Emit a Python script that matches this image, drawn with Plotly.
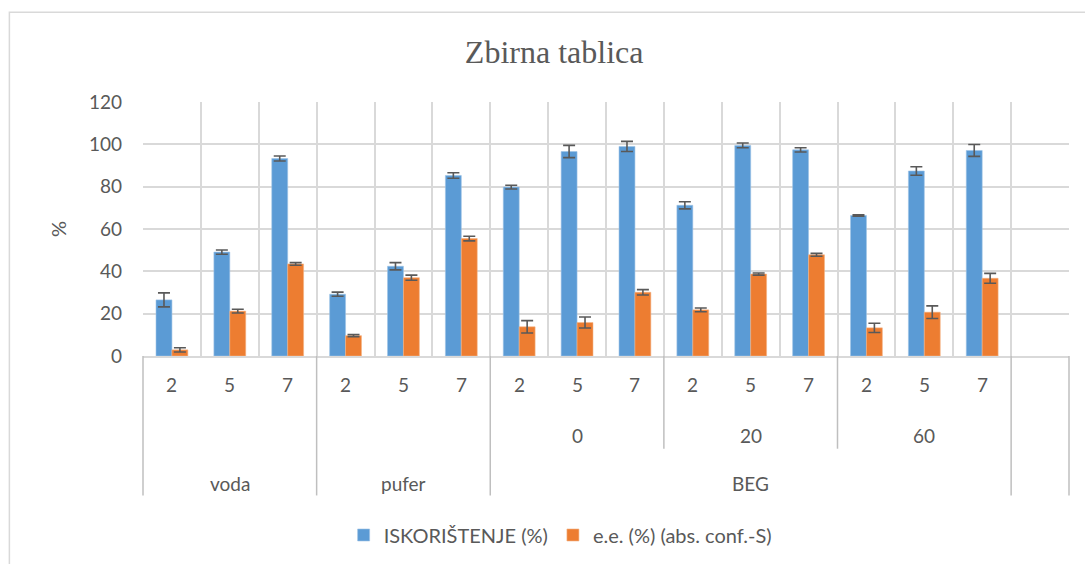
import plotly.graph_objects as go

# Three-level category structure: temperature / time / medium
level1 = ["2", "5", "7"] * 5
level2_labels = ["0", "20", "60"]
level3_labels = ["voda", "pufer", "BEG"]

iskoristenje = [26.5, 49.1, 93.3, 29.2, 42.4, 85.3, 79.8, 96.6, 99.0, 71.2, 99.5, 97.4, 66.4, 87.4, 97.1]
iskoristenje_err = [3.3, 1.0, 1.2, 1.0, 1.7, 1.3, 0.9, 2.9, 2.4, 1.7, 1.1, 1.0, 0.3, 2.0, 2.8]
ee = [2.9, 21.2, 43.5, 9.6, 37.0, 55.5, 13.8, 15.8, 30.1, 21.8, 38.7, 47.8, 13.3, 20.7, 36.7]
ee_err = [1.0, 0.9, 0.6, 0.5, 1.2, 1.1, 2.9, 2.6, 1.25, 0.9, 0.5, 0.7, 2.2, 3.0, 2.35]

n_slots = 16  # 15 data categories plus one trailing empty slot
xpos = list(range(len(level1)))

BLUE = "#5B9BD5"
ORANGE = "#ED7D31"
TEXT = "#595959"
GRID = "#D9D9D9"
SEP = "#BFBFBF"
FONT = "Lato"
LABEL_SIZE = 19

fig = go.Figure()
fig.add_trace(go.Bar(
    x=xpos, y=iskoristenje, name="ISKORIŠTENJE (%)",
    marker=dict(color=BLUE, line=dict(color="#9DC3E6", width=0.6)),
    error_y=dict(type="data", array=iskoristenje_err, color=TEXT, thickness=1.6, width=6),
))
fig.add_trace(go.Bar(
    x=xpos, y=ee, name="e.e. (%) (abs. conf.-S)",
    marker=dict(color=ORANGE, line=dict(color="#F4B183", width=0.6)),
    error_y=dict(type="data", array=ee_err, color=TEXT, thickness=1.6, width=6),
))

label_font = dict(family=FONT, size=LABEL_SIZE, color=TEXT)
annotations = []
# First label row
for i, lab in enumerate(level1):
    annotations.append(dict(x=i, y=-0.114, xref="x", yref="paper", text=lab,
                            showarrow=False, yanchor="middle", font=label_font))
# Second label row (BEG sub-groups)
for j, lab in enumerate(level2_labels):
    annotations.append(dict(x=7 + 3 * j, y=-0.314, xref="x", yref="paper", text=lab,
                            showarrow=False, yanchor="middle", font=label_font))
# Third label row
for x, lab in zip([1, 4, 10], level3_labels):
    annotations.append(dict(x=x, y=-0.502, xref="x", yref="paper", text=lab,
                            showarrow=False, yanchor="middle", font=label_font))

shapes = []
# Group separators below the axis
for xb in [2.5, 5.5, 14.5]:
    shapes.append(dict(type="line", xref="x", yref="paper", x0=xb, x1=xb, y0=0, y1=-0.549,
                       line=dict(color=SEP, width=1.5)))
for xb in [8.5, 11.5]:
    shapes.append(dict(type="line", xref="x", yref="paper", x0=xb, x1=xb, y0=0, y1=-0.365,
                       line=dict(color=SEP, width=1.5)))
for xp in [0, 1]:
    shapes.append(dict(type="line", xref="paper", yref="paper", x0=xp, x1=xp, y0=0, y1=-0.549,
                       line=dict(color=SEP, width=1.5)))
# Chart frame
shapes.append(dict(type="rect", xref="paper", yref="paper", x0=-0.1443, x1=1.2,
                   y0=-1.2, y1=1.353, line=dict(color=GRID, width=1.5), fillcolor="rgba(0,0,0,0)"))

fig.update_layout(
    width=1085, height=564,
    margin=dict(l=143, r=16, t=102, b=207),
    paper_bgcolor="white", plot_bgcolor="white",
    barmode="group", bargap=0.45, bargroupgap=0,
    title=dict(text="Zbirna tablica", xref="paper", x=0.444, xanchor="center",
               y=0.908, yanchor="middle",
               font=dict(family="Liberation Serif", size=32, color=TEXT)),
    xaxis=dict(range=[-0.5, n_slots - 0.5], tickvals=[k - 0.5 for k in range(n_slots + 1)],
               showticklabels=False, showgrid=True, gridcolor=GRID, gridwidth=1.5,
               showline=True, linecolor=GRID, linewidth=1.5, zeroline=False, ticks=""),
    yaxis=dict(range=[0, 120], dtick=20, showgrid=True, gridcolor=GRID, gridwidth=1.5,
               zeroline=False, showline=False, ticks="", ticklabelstandoff=20,
               tickfont=label_font,
               title=dict(text="%", standoff=16, font=dict(family=FONT, size=20, color=TEXT))),
    legend=dict(orientation="h", x=0.451, xanchor="center", y=-0.698, yanchor="middle",
                font=dict(family=FONT, size=20, color=TEXT), itemwidth=30,
                traceorder="normal"),
    annotations=annotations,
    shapes=shapes,
)

fig.write_html("out.html")
